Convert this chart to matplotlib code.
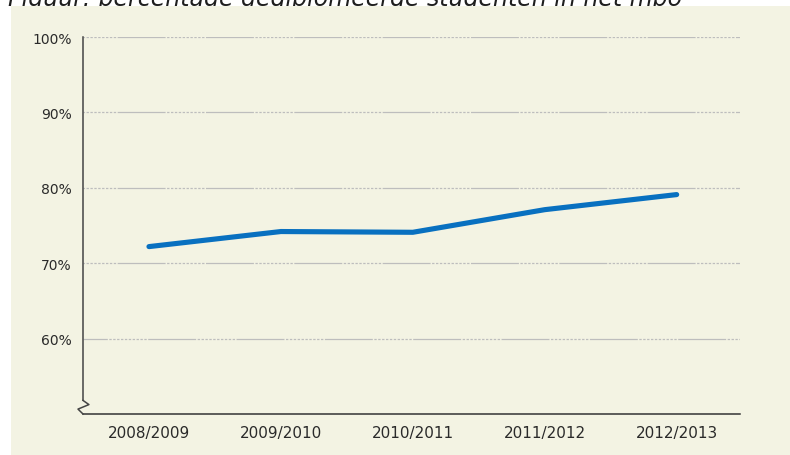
import matplotlib
matplotlib.use("Agg")
import matplotlib.pyplot as plt
from matplotlib.patches import Rectangle

# data
years = ["2008/2009", "2009/2010", "2010/2011", "2011/2012", "2012/2013"]
pct_diploma = [72.2, 74.2, 74.1, 77.1, 79.1]
y_ticks = [60, 70, 80, 90, 100]
y_labels = ["60%", "70%", "80%", "90%", "100%"]

title = "Figuur: percentage gediplomeerde studenten in het mbo"

plt.rcParams["font.family"] = ["DejaVu Sans"]
plt.rcParams["lines.scale_dashes"] = False

W, H = 790, 456
fig = plt.figure(figsize=(W / 100, H / 100), dpi=100)
fig.patch.set_facecolor("white")

# beige panel behind the chart (it hides the descenders of the cut-off caption)
fig.patches.append(Rectangle((11 / W, 0), 779 / W, 449 / H, transform=fig.transFigure,
                             facecolor="#f3f3e3", edgecolor="none", zorder=-1))

fig.text(8 / W, 1 - 6 / H, title, fontsize=17, style="italic", color="#1e1e1e",
         va="baseline", ha="left", zorder=-2)

ax = fig.add_axes([83 / W, 1 - 415 / H, 657 / W, 377 / H])
ax.set_facecolor("none")
ax.set_xlim(-0.5, 4.48)
ax.set_ylim(50, 100)

# dashed/dotted grid pattern: long solid stroke followed by a run of dots
dots = []
for _ in range(10):
    dots += [1.7, 1.1]
pattern = tuple([34.5, 1.1] + dots)
grid_offsets = {60: 17, 70: 39, 80: 39, 90: 39, 100: 39}
for yt in y_ticks:
    ax.axhline(yt, color="#bdbdbd", lw=0.9, linestyle=(grid_offsets[yt], pattern), zorder=1)

ax.plot(range(len(years)), pct_diploma, color="#0870c0", lw=3.7,
        solid_capstyle="round", solid_joinstyle="round", zorder=3)

for s in ["top", "right"]:
    ax.spines[s].set_visible(False)
ax.spines["bottom"].set_color("#333333")
ax.spines["bottom"].set_linewidth(1.1)
ax.spines["left"].set_color("#444444")
ax.spines["left"].set_linewidth(1.1)
ax.spines["left"].set_bounds(51.8, 100)

# axis break zigzag at the bottom of the y axis
zx = [-0.5, -0.455, -0.538, -0.5]
zy = [51.8, 51.25, 50.65, 50.0]
ax.plot(zx, zy, color="#444444", lw=1.1, clip_on=False, zorder=4)

ax.set_xticks(range(len(years)))
ax.set_xticklabels(years, fontsize=11, color="#2a2a2a")
ax.set_yticks(y_ticks)
ax.set_yticklabels(y_labels, fontsize=10, color="#2a2a2a")
ax.tick_params(axis="both", length=0)
ax.tick_params(axis="y", pad=8)
ax.tick_params(axis="x", pad=8)

fig.savefig("out.png", dpi=100)
